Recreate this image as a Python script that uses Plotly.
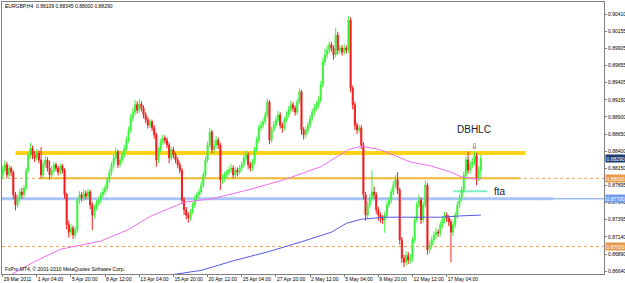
import plotly.graph_objects as go

# ---------------- data ----------------
opens = [
0.8805,0.8812,0.8820,0.8805,0.8815,0.8809,0.8776,0.8761,0.8771,0.8780,
0.8776,0.8786,0.8812,0.8834,0.8844,0.8834,0.8830,0.8837,0.8827,0.8805,
0.8820,0.8827,0.8815,0.8805,0.8812,0.8820,0.8815,0.8809,0.8818,0.8812,
0.8776,0.8732,0.8721,0.8727,0.8717,0.8724,0.8768,0.8776,0.8771,0.8778,
0.8774,0.8780,0.8761,0.8746,0.8758,0.8764,0.8768,0.8776,0.8780,0.8786,
0.8798,0.8809,0.8820,0.8830,0.8839,0.8820,0.8827,0.8834,0.8844,0.8856,
0.8871,0.8888,0.8897,0.8908,0.8900,0.8909,0.8903,0.8893,0.8886,0.8878,
0.8883,0.8874,0.8864,0.8827,0.8842,0.8853,0.8859,0.8856,0.8849,0.8830,
0.8842,0.8834,0.8827,0.8820,0.8812,0.8768,0.8754,0.8746,0.8742,0.8751,
0.8761,0.8771,0.8776,0.8780,0.8790,0.8805,0.8827,0.8849,0.8868,0.8842,
0.8849,0.8856,0.8849,0.8798,0.8800,0.8805,0.8809,0.8812,0.8815,0.8805,
0.8812,0.8809,0.8815,0.8820,0.8830,0.8834,0.8820,0.8815,0.8824,0.8842,
0.8856,0.8874,0.8878,0.8883,0.8893,0.8912,0.8856,0.8871,0.8878,0.8886,
0.8893,0.8878,0.8874,0.8886,0.8893,0.8900,0.8908,0.8903,0.8897,0.8912,
0.8927,0.8871,0.8864,0.8871,0.8878,0.8888,0.8897,0.8903,0.8908,0.8915,
0.8937,0.8971,0.8981,0.8988,0.8996,0.8991,0.8981,0.9010,0.8988,0.8991,
0.8985,0.8991,0.8988,0.9032,0.8932,0.8908,0.8878,0.8871,0.8874,0.8849,
0.8776,0.8746,0.8761,0.8771,0.8780,0.8776,0.8754,0.8746,0.8742,0.8739,
0.8746,0.8761,0.8768,0.8780,0.8790,0.8798,0.8783,0.8710,0.8683,0.8677,
0.8687,0.8680,0.8683,0.8710,0.8739,0.8761,0.8768,0.8739,0.8761,0.8790,
0.8695,0.8702,0.8710,0.8717,0.8721,0.8720,0.8732,0.8739,0.8746,0.8742,
0.8736,0.8721,0.8732,0.8746,0.8761,0.8771,0.8783,0.8805,0.8827,0.8812,
0.8820,0.8824,0.8833,0.8800,0.88109]
highs = [
0.8818,0.8826,0.8824,0.8820,0.8818,0.8812,0.8780,0.8776,0.8785,0.8786,
0.8790,0.8816,0.8838,0.8852,0.8848,0.8840,0.8843,0.8841,0.8846,0.8825,
0.8833,0.8831,0.8826,0.8818,0.8824,0.8823,0.8818,0.8822,0.8821,0.8815,
0.8779,0.8738,0.8733,0.8731,0.8729,0.8772,0.8781,0.8780,0.8784,0.8782,
0.8785,0.8783,0.8765,0.8762,0.8768,0.8773,0.8780,0.8786,0.8791,0.8802,
0.8814,0.8824,0.8835,0.8845,0.8842,0.8832,0.8839,0.8849,0.8861,0.8876,
0.8894,0.8903,0.8915,0.8913,0.8916,0.8913,0.8907,0.8897,0.8890,0.8887,
0.8886,0.8878,0.8867,0.8846,0.8858,0.8864,0.8863,0.8860,0.8853,0.8846,
0.8846,0.8838,0.8831,0.8824,0.8815,0.8772,0.8758,0.8750,0.8755,0.8765,
0.8775,0.8780,0.8785,0.8795,0.8810,0.8832,0.8854,0.8874,0.8871,0.8855,
0.8862,0.8860,0.8852,0.8806,0.8810,0.8813,0.8817,0.8821,0.8819,0.8817,
0.8816,0.8820,0.8825,0.8836,0.8841,0.8838,0.8824,0.8828,0.8846,0.8861,
0.8879,0.8884,0.8888,0.8898,0.8917,0.8915,0.8876,0.8884,0.8891,0.8899,
0.8897,0.8882,0.8890,0.8898,0.8906,0.8914,0.8912,0.8907,0.8917,0.8933,
0.8930,0.8875,0.8876,0.8883,0.8893,0.8902,0.8909,0.8913,0.8920,0.8943,
0.8977,0.8990,0.8995,0.9001,0.9000,0.8995,0.9021,0.9015,0.8996,0.8995,
0.8997,0.8995,0.9038,0.9036,0.8936,0.8912,0.8882,0.8879,0.8878,0.8853,
0.8780,0.8766,0.8777,0.8812,0.8788,0.8780,0.8758,0.8750,0.8746,0.8751,
0.8766,0.8773,0.8785,0.8796,0.8805,0.8809,0.8786,0.8714,0.8688,0.8693,
0.8692,0.8689,0.8714,0.8744,0.8766,0.8776,0.8772,0.8766,0.8797,0.8793,
0.8708,0.8715,0.8722,0.8728,0.8725,0.8737,0.8744,0.8751,0.8750,0.8746,
0.8740,0.8737,0.8751,0.8766,0.8776,0.8788,0.8810,0.8832,0.8839,0.8826,
0.8830,0.8840,0.8837,0.8818,0.88345]
lows = [
0.8800,0.8808,0.8800,0.8801,0.8803,0.8770,0.8753,0.8757,0.8766,0.8770,
0.8772,0.8782,0.8808,0.8829,0.8828,0.8824,0.8826,0.8822,0.8800,0.8801,
0.8815,0.8810,0.8798,0.8801,0.8808,0.8810,0.8804,0.8805,0.8807,0.8770,
0.8725,0.8713,0.8716,0.8711,0.8712,0.8720,0.8763,0.8766,0.8767,0.8769,
0.8770,0.8755,0.8724,0.8741,0.8753,0.8759,0.8763,0.8771,0.8775,0.8782,
0.8793,0.8804,0.8815,0.8826,0.8815,0.8816,0.8823,0.8830,0.8840,0.8852,
0.8866,0.8883,0.8892,0.8895,0.8896,0.8898,0.8888,0.8881,0.8873,0.8874,
0.8869,0.8858,0.8817,0.8822,0.8838,0.8849,0.8851,0.8844,0.8822,0.8826,
0.8829,0.8822,0.8815,0.8807,0.8762,0.8746,0.8740,0.8735,0.8738,0.8747,
0.8757,0.8766,0.8771,0.8775,0.8786,0.8800,0.8823,0.8845,0.8837,0.8836,
0.8844,0.8843,0.8783,0.8792,0.8795,0.8800,0.8804,0.8808,0.8800,0.8801,
0.8803,0.8805,0.8810,0.8816,0.8826,0.8814,0.8810,0.8811,0.8820,0.8838,
0.8852,0.8869,0.8873,0.8879,0.8889,0.8850,0.8852,0.8867,0.8874,0.8881,
0.8873,0.8867,0.8870,0.8882,0.8889,0.8896,0.8898,0.8892,0.8893,0.8908,
0.8864,0.8857,0.8859,0.8866,0.8874,0.8884,0.8892,0.8899,0.8903,0.8911,
0.8933,0.8966,0.8976,0.8983,0.8986,0.8974,0.8977,0.8982,0.8983,0.8980,
0.8981,0.8983,0.8984,0.8926,0.8901,0.8871,0.8865,0.8866,0.8843,0.8769,
0.8738,0.8740,0.8757,0.8766,0.8770,0.8748,0.8738,0.8735,0.8733,0.8720,
0.8741,0.8756,0.8763,0.8775,0.8786,0.8777,0.8703,0.8676,0.8670,0.8672,
0.8674,0.8675,0.8678,0.8705,0.8735,0.8756,0.8733,0.8735,0.8757,0.8688,
0.8690,0.8697,0.8704,0.8711,0.8714,0.8715,0.8727,0.8734,0.8736,0.8730,
0.8677,0.8715,0.8727,0.8741,0.8756,0.8766,0.8778,0.8800,0.8807,0.8806,
0.8815,0.8819,0.8790,0.8796,0.88000]
closes = [
0.8812,0.8820,0.8805,0.8815,0.8809,0.8776,0.8761,0.8771,0.8780,0.8776,
0.8786,0.8812,0.8834,0.8844,0.8834,0.8830,0.8837,0.8827,0.8805,0.8820,
0.8827,0.8815,0.8805,0.8812,0.8820,0.8815,0.8809,0.8818,0.8812,0.8776,
0.8732,0.8721,0.8727,0.8717,0.8724,0.8768,0.8776,0.8771,0.8778,0.8774,
0.8780,0.8761,0.8746,0.8758,0.8764,0.8768,0.8776,0.8780,0.8786,0.8798,
0.8809,0.8820,0.8830,0.8839,0.8820,0.8827,0.8834,0.8844,0.8856,0.8871,
0.8888,0.8897,0.8908,0.8900,0.8909,0.8903,0.8893,0.8886,0.8878,0.8883,
0.8874,0.8864,0.8827,0.8842,0.8853,0.8859,0.8856,0.8849,0.8830,0.8842,
0.8834,0.8827,0.8820,0.8812,0.8768,0.8754,0.8746,0.8742,0.8751,0.8761,
0.8771,0.8776,0.8780,0.8790,0.8805,0.8827,0.8849,0.8868,0.8842,0.8849,
0.8856,0.8849,0.8798,0.8800,0.8805,0.8809,0.8812,0.8815,0.8805,0.8812,
0.8809,0.8815,0.8820,0.8830,0.8834,0.8820,0.8815,0.8824,0.8842,0.8856,
0.8874,0.8878,0.8883,0.8893,0.8912,0.8856,0.8871,0.8878,0.8886,0.8893,
0.8878,0.8874,0.8886,0.8893,0.8900,0.8908,0.8903,0.8897,0.8912,0.8927,
0.8871,0.8864,0.8871,0.8878,0.8888,0.8897,0.8903,0.8908,0.8915,0.8937,
0.8971,0.8981,0.8988,0.8996,0.8991,0.8981,0.9010,0.8988,0.8991,0.8985,
0.8991,0.8988,0.9032,0.8932,0.8908,0.8878,0.8871,0.8874,0.8849,0.8776,
0.8746,0.8761,0.8771,0.8780,0.8776,0.8754,0.8746,0.8742,0.8739,0.8746,
0.8761,0.8768,0.8780,0.8790,0.8798,0.8783,0.8710,0.8683,0.8677,0.8687,
0.8680,0.8683,0.8710,0.8739,0.8761,0.8768,0.8739,0.8761,0.8790,0.8695,
0.8702,0.8710,0.8717,0.8721,0.8720,0.8732,0.8739,0.8746,0.8742,0.8736,
0.8721,0.8732,0.8746,0.8761,0.8771,0.8783,0.8805,0.8827,0.8812,0.8820,
0.8824,0.8833,0.8800,0.8811,0.88290]

# moving averages (bar index, price)
ma_pink_idx = [0, 4, 15, 27, 46, 59, 69, 85, 98, 115, 132, 149, 162, 168, 177, 191, 201, 210, 215, 222, 224]
ma_pink_val = [0.8652, 0.8659, 0.8678, 0.8696, 0.8708, 0.8725, 0.8744, 0.8765, 0.8770, 0.8783, 0.8798,
               0.8817, 0.8842, 0.8847, 0.8842, 0.8824, 0.8818, 0.8809, 0.8802, 0.8799, 0.8799]
ma_blue_idx = [80, 93, 108, 124, 140, 154, 161, 168, 179, 191, 205, 215, 224]
ma_blue_val = [0.8659, 0.8665, 0.8679, 0.8692, 0.8707, 0.8721, 0.8734, 0.8740, 0.8743, 0.8743, 0.8743, 0.8745, 0.8746]

# drawn objects
level_gold = 0.8837
level_orange = 0.8800
level_blue = 0.8770
level_low = 0.8700
level_fta = 0.8781

date_tick_idx = [0, 16, 32, 48, 64, 80, 96, 112, 128, 144, 160, 176, 192, 208]
date_tick_text = ["29 Mar 2011", "1 Apr 04:00", "5 Apr 20:00", "8 Apr 12:00", "13 Apr 04:00",
                  "15 Apr 20:00", "20 Apr 12:00", "25 Apr 04:00", "27 Apr 20:00", "2 May 12:00",
                  "5 May 04:00", "9 May 20:00", "12 May 12:00", "17 May 04:00"]
price_ticks = [0.90410, 0.90155, 0.89905, 0.89655, 0.89405, 0.89150, 0.88900, 0.88650,
               0.88400, 0.88150, 0.87895, 0.87645, 0.87395, 0.87140, 0.86890, 0.86640]

header = "EURGBP,H4  0.88109 0.88345 0.88000 0.88290"
footer = "FxPro MT4, \u00a9 2001-2010 MetaQuotes Software Corp."

n = len(closes)
idx = list(range(n))

XMIN, XMAX = -0.3, 281.7
YMIN, YMAX = 0.86597, 0.90586
SMALL = 5

fig = go.Figure()

# horizontal levels
fig.add_shape(type="line", x0=XMIN, x1=XMAX, y0=level_orange, y1=level_orange,
              line=dict(color="#E8A060", width=1, dash="dot"), layer="below")
fig.add_shape(type="line", x0=XMIN, x1=XMAX, y0=level_low, y1=level_low,
              line=dict(color="#E8A060", width=1, dash="dot"), layer="below")
fig.add_shape(type="line", x0=XMIN, x1=XMAX, y0=level_blue, y1=level_blue,
              line=dict(color="#6E9CF0", width=1), layer="below")
fig.add_shape(type="line", x0=XMIN, x1=258, y0=level_blue, y1=level_blue,
              line=dict(color="#A8C4F8", width=3), layer="below")
fig.add_shape(type="line", x0=17, x1=242, y0=level_orange, y1=level_orange,
              line=dict(color="#F4B830", width=2), layer="below")
fig.add_shape(type="line", x0=6, x1=245, y0=level_gold, y1=level_gold,
              line=dict(color="#FFD21A", width=4), layer="below")
fig.add_shape(type="line", x0=211, x1=227, y0=level_fta, y1=level_fta,
              line=dict(color="#80F0C8", width=2), layer="below")

fig.add_trace(go.Scatter(x=ma_pink_idx, y=ma_pink_val, mode="lines",
                         line=dict(color="#F070F0", width=1), hoverinfo="skip"))
fig.add_trace(go.Scatter(x=ma_blue_idx, y=ma_blue_val, mode="lines",
                         line=dict(color="#5858E8", width=1), hoverinfo="skip"))

fig.add_trace(go.Candlestick(
    x=idx, open=opens, high=highs, low=lows, close=closes,
    increasing=dict(line=dict(color="#40F040", width=1), fillcolor="#30FF30"),
    decreasing=dict(line=dict(color="#F02020", width=1), fillcolor="#FF0000"),
    whiskerwidth=0,
))

annos = []
annos.append(dict(x=0.002, y=0.985, xref="paper", yref="paper", text=header, showarrow=False,
                  xanchor="left", yanchor="middle", font=dict(size=SMALL, color="#000000", family="Liberation Sans")))
annos.append(dict(x=0.002, y=0.018, xref="paper", yref="paper", text=footer, showarrow=False,
                  xanchor="left", yanchor="middle", font=dict(size=SMALL, color="#000000", family="Liberation Sans")))
annos.append(dict(x=220.7, y=0.8872, text="DBHLC", showarrow=False,
                  font=dict(size=10, color="#1a1a2a", family="Liberation Sans")))
annos.append(dict(x=232.8, y=level_fta, text="fta", showarrow=False,
                  font=dict(size=10, color="#1a1a2a", family="Liberation Sans")))
annos.append(dict(x=221.2, y=0.8847, text="\u21e9", showarrow=False,
                  font=dict(size=8, color="#404040", family="DejaVu Sans")))

# price boxes on the right axis
boxes = [(0.88290, "#1C3A70"), (0.88000, "#E89848"), (0.87700, "#6E9CF0"), (0.87000, "#E89848")]
for val, col in boxes:
    annos.append(dict(x=1.0, y=val, xref="paper", yref="y", text="%.5f" % val, showarrow=False,
                      xanchor="left", yanchor="middle", bgcolor=col, borderpad=0.5, xshift=1,
                      font=dict(size=SMALL, color="#FFFFFF", family="Liberation Sans")))

fig.update_layout(
    width=625, height=283,
    margin=dict(l=2, r=21, t=2, b=9, autoexpand=False),
    paper_bgcolor="#FFFFFF", plot_bgcolor="#FFFFFF",
    showlegend=False,
    annotations=annos,
    xaxis=dict(range=[XMIN, XMAX], rangeslider=dict(visible=False), showgrid=False, zeroline=False,
               tickmode="array", tickvals=date_tick_idx, ticktext=date_tick_text, tickangle=0,
               automargin=False,
               ticks="outside", ticklen=2, tickcolor="#808080", ticklabelposition="outside right",
               tickfont=dict(size=SMALL, color="#000000", family="Liberation Sans"),
               showline=True, linecolor="#808080", linewidth=1, mirror=True),
    yaxis=dict(range=[YMIN, YMAX], side="right", showgrid=False, zeroline=False, automargin=False,
               tickmode="array", tickvals=price_ticks, ticktext=["%.5f" % v for v in price_ticks],
               ticks="outside", ticklen=2, tickcolor="#808080",
               tickfont=dict(size=SMALL, color="#000000", family="Liberation Sans"),
               showline=True, linecolor="#808080", linewidth=1, mirror=True),
)

fig.write_html("out.html")
